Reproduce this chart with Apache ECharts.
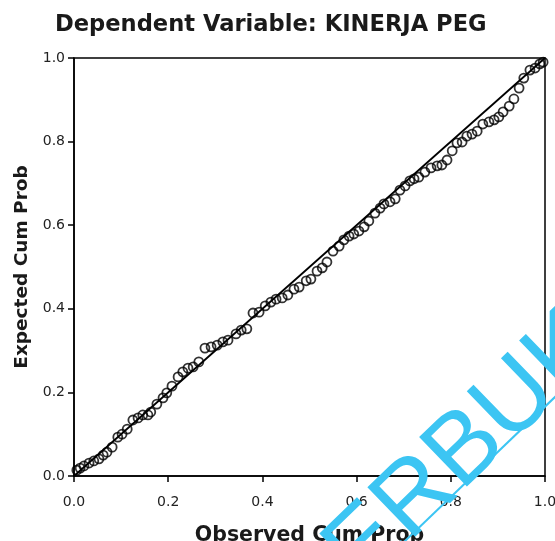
<html>
    <head>
        <meta charset="utf-8">
        <script src="https://cdn.jsdelivr.net/npm/echarts@6/dist/echarts.min.js"></script>
    </head>
    <body>
        <style>
            html, body, #main {
                width: 100%;
                height: 100%;
                margin: 0;
                background: #fff;
            }
        </style>
        <div id="main"></div>
        <script>
            // observed vs expected cumulative probability
            var observed = [
                0.006, 0.013, 0.021, 0.032, 0.042, 0.053, 0.062, 0.070, 0.081, 0.093,
                0.102, 0.113, 0.125, 0.136, 0.146, 0.157, 0.163, 0.176, 0.189, 0.197,
                0.208, 0.221, 0.231, 0.242, 0.253, 0.265, 0.278, 0.291, 0.304, 0.316,
                0.327, 0.344, 0.355, 0.367, 0.380, 0.393, 0.406, 0.418, 0.429, 0.442,
                0.454, 0.467, 0.478, 0.493, 0.503, 0.516, 0.527, 0.537, 0.550, 0.563,
                0.573, 0.584, 0.594, 0.605, 0.616, 0.626, 0.639, 0.650, 0.658, 0.671,
                0.682, 0.692, 0.703, 0.713, 0.722, 0.732, 0.745, 0.758, 0.771, 0.781,
                0.792, 0.803, 0.813, 0.824, 0.834, 0.845, 0.856, 0.868, 0.881, 0.892,
                0.902, 0.911, 0.924, 0.934, 0.945, 0.955, 0.968, 0.979, 0.989, 0.996
            ];
            var expected = [
                0.014, 0.019, 0.024, 0.031, 0.036, 0.041, 0.050, 0.057, 0.069, 0.093,
                0.100, 0.112, 0.134, 0.139, 0.146, 0.146, 0.153, 0.172, 0.187, 0.199,
                0.215, 0.237, 0.249, 0.258, 0.261, 0.273, 0.306, 0.309, 0.313, 0.321,
                0.325, 0.340, 0.349, 0.352, 0.390, 0.392, 0.407, 0.416, 0.423, 0.426,
                0.433, 0.447, 0.452, 0.467, 0.471, 0.490, 0.498, 0.512, 0.538, 0.550,
                0.565, 0.574, 0.579, 0.586, 0.596, 0.610, 0.629, 0.641, 0.651, 0.656,
                0.663, 0.684, 0.694, 0.706, 0.711, 0.715, 0.727, 0.737, 0.742, 0.744,
                0.756, 0.778, 0.797, 0.799, 0.813, 0.818, 0.825, 0.842, 0.847, 0.852,
                0.859, 0.871, 0.885, 0.902, 0.928, 0.952, 0.971, 0.976, 0.986, 0.990
            ];
            // diagonal reference line
            var refX = [0, 1];
            var refY = [0, 1];

            var chart = echarts.init(document.getElementById('main'));

            var points = observed.map(function (x, i) { return [x, expected[i]]; });
            var diag = refX.map(function (x, i) { return [x, refY[i]]; });

            var cyan = '#3cc5f3';

            chart.setOption({
                animation: false,
                backgroundColor: '#fff',
                title: {
                    text: 'Dependent Variable: KINERJA PEG',
                    left: 50,
                    top: 9,
                    textStyle: {
                        fontFamily: 'DejaVu Sans',
                        fontWeight: 'bold',
                        fontSize: 22.6,
                        color: '#1a1a1a'
                    }
                },
                grid: {
                    left: 74,
                    right: 10,
                    top: 58,
                    bottom: 65,
                    outerBoundsMode: 'none',
                    show: true,
                    borderColor: '#000',
                    borderWidth: 1.5
                },
                xAxis: {
                    type: 'value',
                    min: 0,
                    max: 1,
                    interval: 0.2,
                    name: 'Observed Cum Prob',
                    nameLocation: 'middle',
                    nameGap: 49,
                    nameTextStyle: {
                        fontFamily: 'DejaVu Sans',
                        fontWeight: 'bold',
                        fontSize: 20.5,
                        color: '#1a1a1a'
                    },
                    axisLine: { lineStyle: { color: '#000', width: 1.5 } },
                    axisTick: { show: true, length: 6, lineStyle: { color: '#000', width: 1.5 } },
                    axisLabel: {
                        margin: 19,
                        fontFamily: 'DejaVu Sans',
                        fontSize: 14,
                        color: '#222',
                        formatter: function (v) { return v.toFixed(1); }
                    },
                    splitLine: { show: false }
                },
                yAxis: {
                    type: 'value',
                    min: 0,
                    max: 1,
                    interval: 0.2,
                    name: 'Expected Cum Prob',
                    nameLocation: 'middle',
                    nameGap: 41,
                    nameTextStyle: {
                        fontFamily: 'DejaVu Sans',
                        fontWeight: 'bold',
                        fontSize: 18.5,
                        color: '#1a1a1a'
                    },
                    axisLine: { lineStyle: { color: '#000', width: 1.5 } },
                    axisTick: { show: true, length: 6, lineStyle: { color: '#000', width: 1.5 } },
                    axisLabel: {
                        margin: 9,
                        fontFamily: 'DejaVu Sans',
                        fontSize: 14,
                        color: '#222',
                        formatter: function (v) { return v.toFixed(1); }
                    },
                    splitLine: { show: false }
                },
                series: [
                    {
                        type: 'line',
                        data: diag,
                        symbol: 'none',
                        lineStyle: { color: '#000', width: 1.8 },
                        z: 2
                    },
                    {
                        type: 'scatter',
                        data: points,
                        symbol: 'circle',
                        symbolSize: 9,
                        itemStyle: {
                            color: 'rgba(255,255,255,0)',
                            borderColor: '#000',
                            borderWidth: 1.8
                        },
                        z: 3
                    }
                ],
                graphic: [
                    {
                        type: 'text',
                        x: 342,
                        y: 569,
                        rotation: 44 * Math.PI / 180,
                        z: 10,
                        style: {
                            text: 'ERBUK',
                            font: '100px "Liberation Sans"',
                            fill: cyan,
                            textAlign: 'left',
                            textVerticalAlign: 'middle'
                        }
                    },
                    {
                        type: 'line',
                        z: 10,
                        shape: { x1: 330, y1: 613, x2: 580, y2: 373 },
                        style: { stroke: cyan, lineWidth: 2 }
                    }
                ]
            });
        </script>
    </body>
</html>
